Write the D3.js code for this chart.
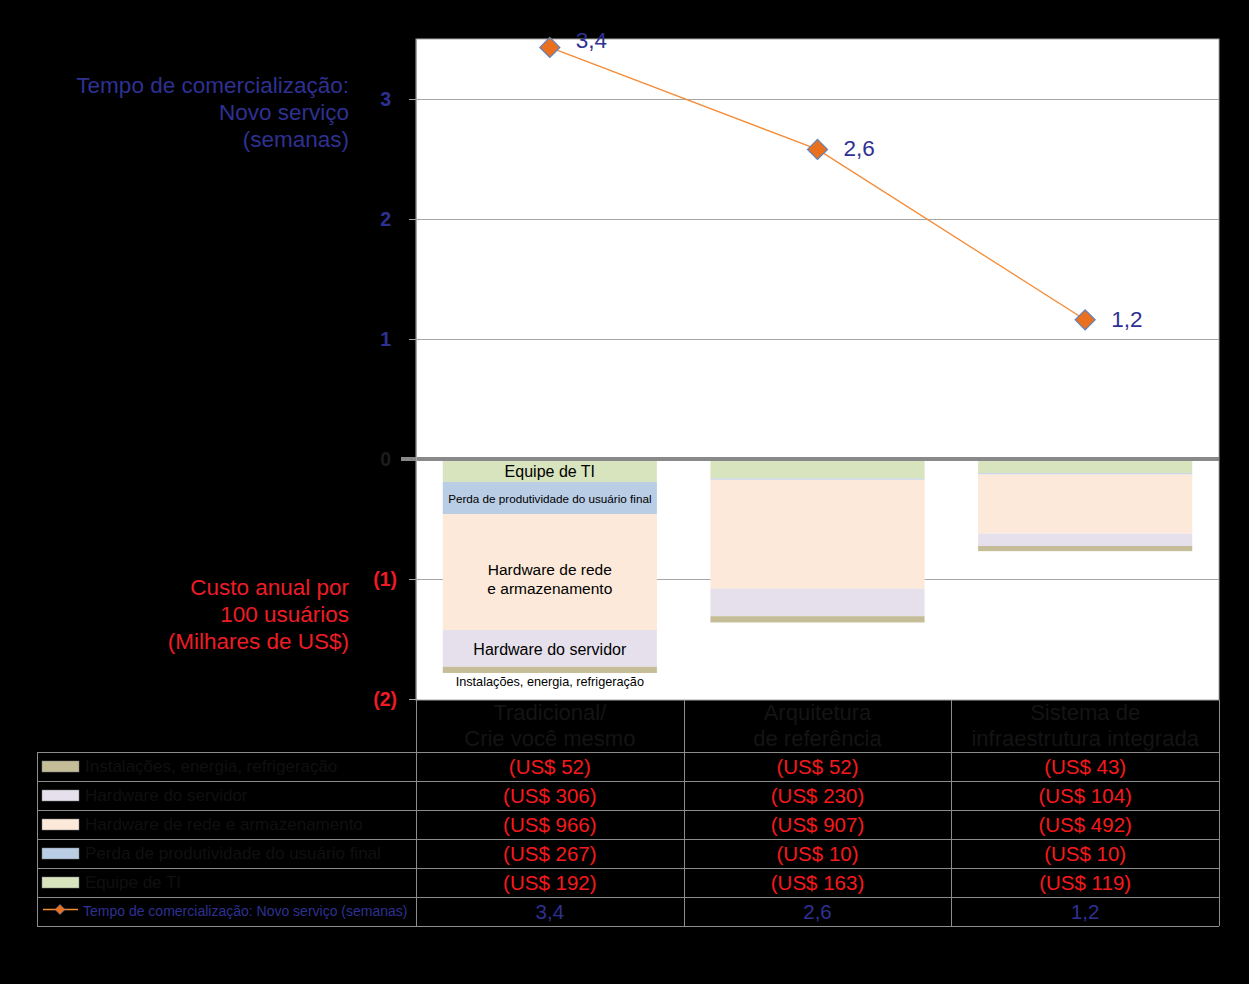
<!doctype html>
<html>
  <head>
    <meta charset='utf-8'>
    <script src="https://d3js.org/d3.v7.min.js"></script>
    <style>
      body { margin: 0; background: #000; }
      svg { display: block; font-family: "Liberation Sans", Arial, sans-serif; }
    </style>
  </head>

  <body>

  <svg width="1249" height="984"></svg>

  <script>
    const categories = [
      ["Tradicional/", "Crie você mesmo"],
      ["Arquitetura", "de referência"],
      ["Sistema de", "infraestrutura integrada"]
    ];

    // cost series, thousands of US$ per 100 users (shown as negatives)
    const seriesNames = [
      "Instalações, energia, refrigeração",
      "Hardware do servidor",
      "Hardware de rede e armazenamento",
      "Perda de produtividade do usuário final",
      "Equipe de TI"
    ];
    const instalacoes = [52, 52, 43];
    const servidor = [306, 230, 104];
    const rede = [966, 907, 492];
    const perda = [267, 10, 10];
    const equipe = [192, 163, 119];
    const seriesColors = ["#c4bd97", "#e6e0ec", "#fce9d9", "#b9cde5", "#d7e4bd"];

    // time to market, weeks
    const tempo = [3.43, 2.58, 1.16];

    const yTicks = [-2, -1, 0, 1, 2, 3];

    const costSeries = [instalacoes, servidor, rede, perda, equipe];

    const svg = d3.select("svg");
    const plot = {left: 416, right: 1219, top: 39, bottom: 699};

    const x = d3.scaleBand()
      .domain(d3.range(categories.length))
      .range([plot.left, plot.right])
      .paddingInner(0.2)
      .paddingOuter(0.1);

    const y = d3.scaleLinear()
      .domain([-2, 3.5])
      .range([plot.bottom, plot.top]);

    // plot background
    svg.append("rect")
      .attr("x", plot.left).attr("y", plot.top)
      .attr("width", plot.right - plot.left).attr("height", plot.bottom - plot.top + 1)
      .attr("fill", "#fff")
      .attr("stroke", "#a6a6a6");

    // gridlines + ticks
    svg.selectAll(".grid")
      .data(yTicks.filter((t) => t !== 0 && t !== -2))
      .enter()
        .append("line")
          .attr("x1", 409).attr("x2", plot.right)
          .attr("y1", (d) => Math.round(y(d)) + 0.5)
          .attr("y2", (d) => Math.round(y(d)) + 0.5)
          .attr("stroke", "#a6a6a6");
    svg.append("line")
      .attr("x1", 409).attr("x2", plot.left)
      .attr("y1", Math.round(y(-2)) + 0.5).attr("y2", Math.round(y(-2)) + 0.5)
      .attr("stroke", "#a6a6a6");

    // stacked cost bars (downwards from zero, Equipe de TI on top)
    const rows = categories.map((c, i) => {
      const r = {i: i};
      seriesNames.forEach((s, k) => r[s] = -costSeries[k][i] / 1000);
      return r;
    });
    const stackKeys = seriesNames.slice().reverse();
    const stacked = d3.stack()
      .keys(stackKeys)
      .offset(d3.stackOffsetDiverging)(rows);

    svg.selectAll(".layer")
      .data(stacked)
      .enter()
        .append("g")
          .attr("fill", (d) => seriesColors[seriesNames.indexOf(d.key)])
        .selectAll("rect")
        .data((d) => d)
        .enter()
          .append("rect")
            .attr("x", (d) => x(d.data.i))
            .attr("width", x.bandwidth())
            .attr("y", (d) => y(d[1]))
            .attr("height", (d) => y(d[0]) - y(d[1]));

    // labels inside the first bar
    const first = {};
    stacked.forEach((s) => first[s.key] = s[0]);
    const cx0 = x(0) + x.bandwidth() / 2;
    const barLabels = [
      {key: "Equipe de TI", lines: ["Equipe de TI"], size: 16, nudge: 1},
      {key: "Perda de produtividade do usuário final", lines: ["Perda de produtividade do usuário final"], size: 11.7, nudge: 1},
      {key: "Hardware de rede e armazenamento", lines: ["Hardware de rede", "e armazenamento"], size: 15.5, nudge: 7},
      {key: "Hardware do servidor", lines: ["Hardware do servidor"], size: 16, nudge: 1}
    ];
    barLabels.forEach((b) => {
      const seg = first[b.key];
      const mid = (y(seg[0]) + y(seg[1])) / 2 + b.nudge;
      const t = svg.append("text")
        .attr("x", cx0)
        .attr("text-anchor", "middle")
        .attr("font-size", b.size)
        .attr("fill", "#000");
      b.lines.forEach((l, j) => {
        t.append("tspan")
          .attr("x", cx0)
          .attr("y", mid + (j - (b.lines.length - 1) / 2) * 19 + b.size * 0.35)
          .text(l);
      });
    });
    svg.append("text")
      .attr("x", cx0)
      .attr("y", y(first[seriesNames[0]][0]) + 13)
      .attr("text-anchor", "middle")
      .attr("font-size", 12.7)
      .attr("fill", "#000")
      .text(seriesNames[0]);

    // zero line
    svg.append("line")
      .attr("x1", 401).attr("x2", plot.right)
      .attr("y1", y(0)).attr("y2", y(0))
      .attr("stroke", "#898989")
      .attr("stroke-width", 4);

    // left axis line
    svg.append("line")
      .attr("x1", plot.left + 0.5).attr("x2", plot.left + 0.5)
      .attr("y1", plot.top).attr("y2", 752)
      .attr("stroke", "#a6a6a6");

    // tick labels
    svg.selectAll(".tick")
      .data(yTicks)
      .enter()
        .append("text")
          .attr("x", (d) => d < 0 ? 397 : 391)
          .attr("y", (d) => y(d))
          .attr("dy", "0.35em")
          .attr("text-anchor", "end")
          .attr("font-size", 19.5)
          .attr("font-weight", "bold")
          .attr("fill", (d) => d > 0 ? "#2e3192" : (d < 0 ? "#ee1c25" : "#1c1c1c"))
          .text((d) => d < 0 ? `(${-d})` : d);

    // axis titles
    const titleBlue = ["Tempo de comercialização:", "Novo serviço", "(semanas)"];
    const titleRed = ["Custo anual por", "100 usuários", "(Milhares de US$)"];
    titleBlue.forEach((l, j) => svg.append("text")
      .attr("x", 349).attr("y", 93 + j * 27)
      .attr("text-anchor", "end").attr("font-size", 22.5).attr("fill", "#2e3192")
      .text(l));
    titleRed.forEach((l, j) => svg.append("text")
      .attr("x", 349).attr("y", 595 + j * 27)
      .attr("text-anchor", "end").attr("font-size", 22.5).attr("fill", "#ee1c25")
      .text(l));

    // time-to-market line
    const cx = (i) => x(i) + x.bandwidth() / 2;
    svg.append("path")
      .datum(tempo)
      .attr("d", d3.line().x((_, i) => cx(i)).y((d) => y(d)))
      .attr("fill", "none")
      .attr("stroke", "#f58a35")
      .attr("stroke-width", 1.3);

    const diamond = (px, py, r) => `M${px},${py - r}L${px + r},${py}L${px},${py + r}L${px - r},${py}Z`;
    svg.selectAll(".pt")
      .data(tempo)
      .enter()
        .append("path")
          .attr("d", (d, i) => diamond(cx(i), y(d), 10))
          .attr("fill", "#e8701f")
          .attr("stroke", "#5b82c0")
          .attr("stroke-width", 1.2);

    const fmt = (v) => d3.format(".1f")(v).replace(".", ",");
    svg.selectAll(".ptlabel")
      .data(tempo)
      .enter()
        .append("text")
          .attr("x", (d, i) => cx(i) + 26)
          .attr("y", (d) => y(d) - plot.top < 15 ? plot.top + 1 : y(d) - 1)
          .attr("dy", "0.35em")
          .attr("font-size", 22.5)
          .attr("fill", "#2e3192")
          .text(fmt);

    // data table
    const tableLeft = 37;
    const colEdges = [tableLeft, plot.left].concat(d3.range(1, categories.length + 1).map((i) => x.range()[0] + x.step() * i));
    const headerTop = 700, headerBottom = 752, rowH = 29;
    const rowCount = seriesNames.length + 1;
    const tableBottom = headerBottom + rowCount * rowH;
    const grid = "#8c8c8c";

    colEdges.slice(1).forEach((cxe) => svg.append("line")
      .attr("x1", Math.round(cxe) + 0.5).attr("x2", Math.round(cxe) + 0.5)
      .attr("y1", headerTop).attr("y2", tableBottom)
      .attr("stroke", grid));
    svg.append("line")
      .attr("x1", tableLeft + 0.5).attr("x2", tableLeft + 0.5)
      .attr("y1", headerBottom).attr("y2", tableBottom)
      .attr("stroke", grid);
    d3.range(rowCount + 1).forEach((r) => svg.append("line")
      .attr("x1", tableLeft).attr("x2", plot.right)
      .attr("y1", headerBottom + r * rowH + 0.5).attr("y2", headerBottom + r * rowH + 0.5)
      .attr("stroke", grid));

    // header text
    categories.forEach((c, i) => {
      c.forEach((l, j) => svg.append("text")
        .attr("x", cx(i)).attr("y", 720 + j * 26)
        .attr("text-anchor", "middle").attr("font-size", 22).attr("fill", "#141414")
        .text(l));
    });

    // series rows
    seriesNames.forEach((s, k) => {
      const ry = headerBottom + k * rowH;
      svg.append("rect")
        .attr("x", 42).attr("y", ry + 9).attr("width", 37).attr("height", 11)
        .attr("fill", seriesColors[k]).attr("stroke", "#7f7f7f").attr("stroke-width", 0.5);
      svg.append("text")
        .attr("x", 85).attr("y", ry + rowH / 2).attr("dy", "0.35em")
        .attr("font-size", 17).attr("fill", "#101010")
        .text(s);
      costSeries[k].forEach((v, i) => svg.append("text")
        .attr("x", cx(i)).attr("y", ry + rowH / 2).attr("dy", "0.35em")
        .attr("text-anchor", "middle").attr("font-size", 20.5).attr("fill", "#f5191c")
        .text(`(US$ ${v})`));
    });

    // line row
    const ly = headerBottom + seriesNames.length * rowH + rowH / 2;
    svg.append("line")
      .attr("x1", 43).attr("x2", 78).attr("y1", ly - 2).attr("y2", ly - 2)
      .attr("stroke", "#f58a35").attr("stroke-width", 1.3);
    svg.append("path")
      .attr("d", diamond(60, ly - 2, 5))
      .attr("fill", "#e8701f").attr("stroke", "#5b82c0").attr("stroke-width", 0.6);
    svg.append("text")
      .attr("x", 83).attr("y", ly).attr("dy", "0.35em")
      .attr("font-size", 14).attr("fill", "#2e3192")
      .text("Tempo de comercialização: Novo serviço (semanas)");
    tempo.forEach((v, i) => svg.append("text")
      .attr("x", cx(i)).attr("y", ly).attr("dy", "0.35em")
      .attr("text-anchor", "middle").attr("font-size", 20.5).attr("fill", "#2e3192")
      .text(fmt(v)));
  </script>
  </body>
</html>
